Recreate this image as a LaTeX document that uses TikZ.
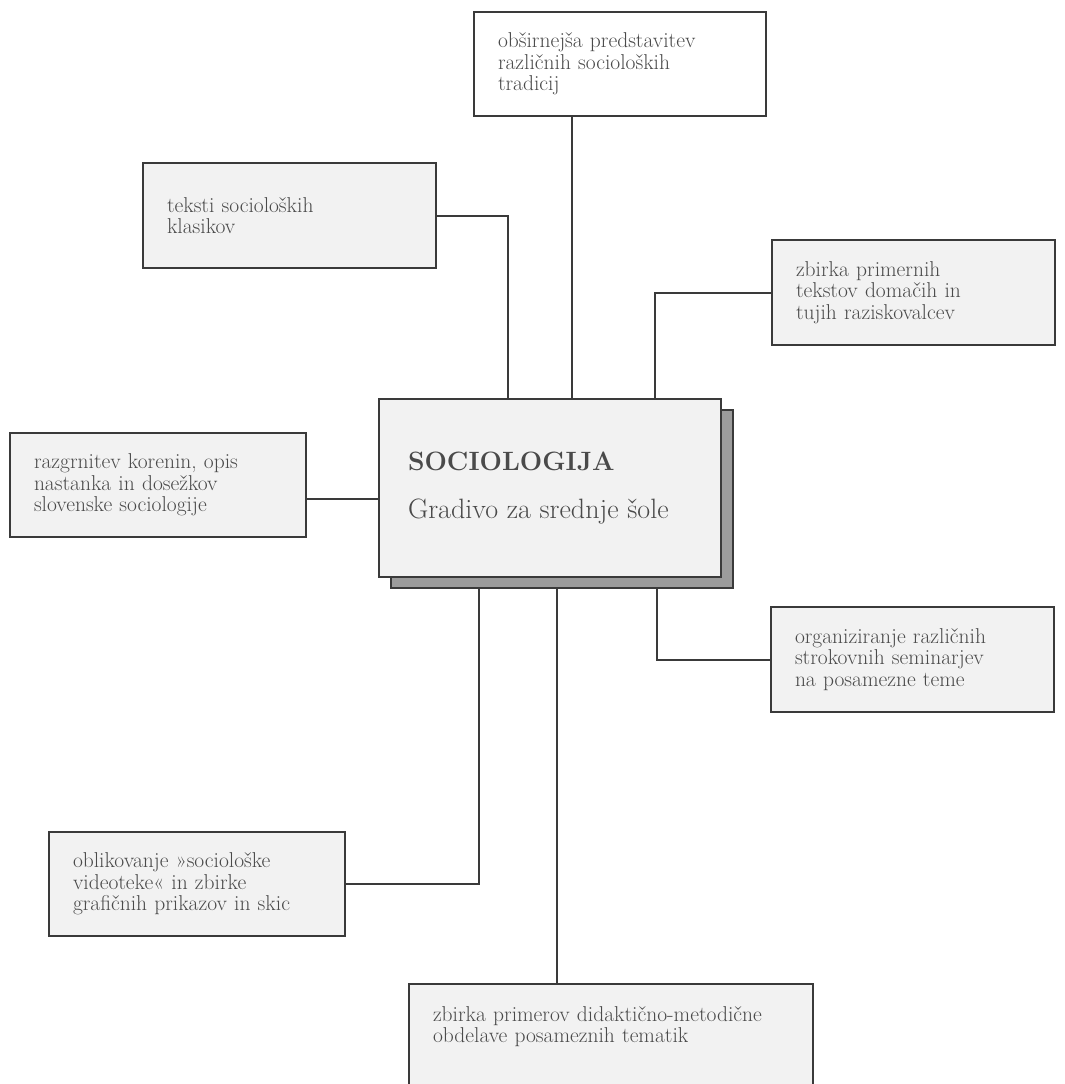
\documentclass[tikz,border=0pt]{standalone}
\usepackage{fontspec}
\usetikzlibrary{shadows}
\definecolor{boxfill}{HTML}{F2F2F2}
\definecolor{inkgray}{HTML}{4A4A4A}
\definecolor{linegray}{HTML}{3A3A3A}
\definecolor{shadegray}{HTML}{9C9C9C}

\begin{document}
\begin{tikzpicture}[x=1pt,y=-1pt,line width=2pt,
  every node/.style={text=inkgray},
  infobox/.style={draw=linegray,fill=boxfill,rectangle,inner sep=0pt,
    align=left,font=\fontsize{21.5}{21.5}\selectfont},
  mainbox/.style={draw=linegray,fill=boxfill,rectangle,inner sep=0pt,
    minimum width=342,minimum height=178,align=left,text width=284,
    font=\fontsize{26}{48}\selectfont,
    copy shadow={shadow xshift=12pt,shadow yshift=-11pt,fill=shadegray,draw=linegray}},
  link/.style={draw=linegray,line width=2pt}]
\useasboundingbox (0,0) rectangle (1065,1084);
\clip (0,0) rectangle (1065,1084);

% outer boxes
\foreach \name/\x/\y/\w/\h/\txt in
{klas/289.5/215.5/293/105/{teksti socioloških\\klasikov},
prim/913.5/292.5/283/105/{zbirka primernih\\tekstov domačih in\\tujih raziskovalcev},
koren/158/485/296/104/{razgrnitev korenin, opis\\nastanka in dosežkov\\slovenske sociologije},
semin/912.5/659.5/283/105/{organiziranje različnih\\strokovnih seminarjev\\na posamezne teme},
video/197/884/296/104/{oblikovanje »sociološke\\videoteke« in zbirke\\grafičnih prikazov in skic}}
\node[infobox,minimum width=\w,minimum height=\h,text width=\w-48] (\name) at (\x,\y) {\txt};

\node[infobox,fill=white,minimum width=292,minimum height=104,text width=244]
  (trad) at (620,64) {obširnejša predstavitev\\različnih socioloških\\tradicij};

% bottom box runs off the page
\node[infobox,minimum width=404,minimum height=150,text width=356,text depth=90pt]
  (didakt) at (611,1059) {zbirka primerov didaktično-metodične\\obdelave posameznih tematik};

% centre
\node[mainbox] (soc) at (550,488)
  {{\fontsize{26.5}{48}\selectfont\bfseries SOCIOLOGIJA}\\
   {\fontsize{28}{48}\selectfont Gradivo za srednje šole}};

% connectors
\draw[link] ([xshift=-48]trad.south) -- ([xshift=-48]trad.south |- soc.north);
\draw[link] (klas.east) -| ([xshift=-42]soc.north);
\draw[link] (prim.west) -| ([xshift=105]soc.north);
\draw[link] ([yshift=-14]koren.east) -- ([yshift=-14]koren.east -| soc.west);
\draw[link] ([xshift=107,yshift=-11]soc.south) |- (semin.west);
\draw[link] ([xshift=-71,yshift=-11]soc.south) |- (video.east);
\draw[link] ([xshift=7,yshift=-11]soc.south) -- ([xshift=7]soc.south |- didakt.north);
\end{tikzpicture}
\end{document}
